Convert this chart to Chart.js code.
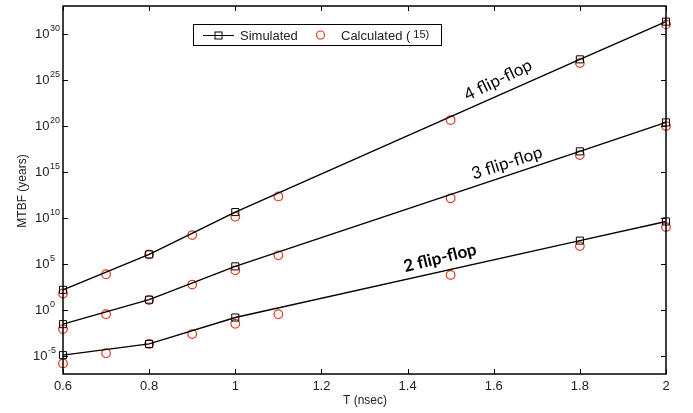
<!DOCTYPE html>
<html lang="en">
<head>
    <meta charset="UTF-8">
    <title>MTBF vs T</title>
    <script src="https://cdn.jsdelivr.net/npm/chart.js"></script>
    <style>
        body { margin: 0; padding: 0; background: #fff; }
        #wrap { width: 693px; height: 413px; position: relative; }
    </style>
</head>
<body>
    <div id="wrap"><canvas id="mtbfChart" width="693" height="413"></canvas></div>

    <script>
        // T (nsec) values
        const simT  = [0.6, 0.8, 1.0, 1.8, 2.0];
        const calcT = [0.6, 0.7, 0.8, 0.9, 1.0, 1.1, 1.5, 1.8, 2.0];

        // log10(MTBF in years)
        const sim4  = [2.15, 6.0, 10.6, 27.2, 31.3];
        const calc4 = [1.75, 3.84, 6.0, 8.1, 10.1, 12.3, 20.6, 26.8, 31.0];
        const sim3  = [-1.58, 1.08, 4.7, 17.2, 20.35];
        const calc3 = [-2.12, -0.5, 1.04, 2.72, 4.27, 5.9, 12.1, 16.8, 19.95];
        const sim2  = [-4.95, -3.73, -0.86, 7.5, 9.58];
        const calc2 = [-5.85, -4.74, -3.73, -2.66, -1.54, -0.5, 3.77, 6.9, 8.97];

        const xTicks = [0.6, 0.8, 1.0, 1.2, 1.4, 1.6, 1.8, 2.0];
        const yTickExps = [-5, 0, 5, 10, 15, 20, 25, 30];

        const RED = "#e2381c";

        function pts(xs, logs) {
            return xs.map((x, i) => ({ x: x, y: Math.pow(10, logs[i]) }));
        }

        function simSet(logs) {
            return {
                data: pts(simT, logs),
                borderColor: "#000",
                borderWidth: 1.4,
                pointStyle: "rect",
                pointRadius: 5,
                pointBorderWidth: 1,
                pointBackgroundColor: "rgba(0,0,0,0)",
                pointBorderColor: "#000",
                fill: false,
                tension: 0,
                clip: false
            };
        }

        function calcSet(logs) {
            return {
                data: pts(calcT, logs),
                showLine: false,
                pointStyle: "circle",
                pointRadius: 4.3,
                pointBorderWidth: 1.2,
                pointBackgroundColor: "rgba(0,0,0,0)",
                pointBorderColor: RED,
                clip: false
            };
        }

        // box, inward ticks, y labels with superscripts, titles, notes, legend
        const decorPlugin = {
            id: "decor",
            afterDraw(chart) {
                const c = chart.ctx;
                const a = chart.chartArea;
                const xs = chart.scales.x, ys = chart.scales.y;
                c.save();
                c.strokeStyle = "#000";
                c.lineWidth = 1.5;
                c.strokeRect(a.left, a.top, a.right - a.left, a.bottom - a.top);

                c.lineWidth = 1;
                c.beginPath();
                xTicks.forEach(v => {
                    const px = Math.round(xs.getPixelForValue(v)) + 0.5;
                    c.moveTo(px, a.bottom); c.lineTo(px, a.bottom - 5);
                    c.moveTo(px, a.top); c.lineTo(px, a.top + 5);
                });
                yTickExps.forEach(e => {
                    const py = Math.round(ys.getPixelForValue(Math.pow(10, e))) + 0.5;
                    c.moveTo(a.left, py); c.lineTo(a.left + 5, py);
                    c.moveTo(a.right, py); c.lineTo(a.right - 5, py);
                });
                c.stroke();

                // y tick labels 10^e
                c.fillStyle = "#222";
                c.textBaseline = "middle";
                c.textAlign = "left";
                yTickExps.forEach(e => {
                    const py = ys.getPixelForValue(Math.pow(10, e));
                    const bx = e < 0 ? 33 : 35;
                    c.font = "13px 'Liberation Sans', Arial, sans-serif";
                    c.fillText("10", bx, py + 1);
                    const w = c.measureText("10").width;
                    c.font = "9px 'Liberation Sans', Arial, sans-serif";
                    c.fillText(e < 0 ? "-" + Math.abs(e) : String(e), bx + w + 0.5, py - 5);
                });

                // axis titles
                c.font = "12px 'Liberation Sans', Arial, sans-serif";
                c.textAlign = "center";
                c.fillText("T (nsec)", 365, 401);
                c.save();
                c.translate(23, 191);
                c.rotate(-Math.PI / 2);
                c.fillText("MTBF (years)", 0, 0);
                c.restore();

                // curve notes
                c.fillStyle = "#000";
                const notes = [
                    { t: "4 flip-flop", x: 498, y: 80, r: -26, bold: false },
                    { t: "3 flip-flop", x: 507, y: 163, r: -18, bold: false },
                    { t: "2 flip-flop", x: 440, y: 258, r: -14, bold: true }
                ];
                notes.forEach(n => {
                    c.save();
                    c.translate(n.x, n.y);
                    c.rotate(n.r * Math.PI / 180);
                    c.font = (n.bold ? "bold " : "") + "17px Lato, 'Open Sans', sans-serif";
                    c.fillText(n.t, 0, 0);
                    c.restore();
                });

                // legend
                c.fillStyle = "#fff";
                c.fillRect(193, 24, 249, 21);
                c.strokeStyle = "#000";
                c.lineWidth = 1;
                c.strokeRect(193.5, 24.5, 248, 21);
                c.beginPath();
                c.moveTo(203, 35.5); c.lineTo(234, 35.5);
                c.stroke();
                c.strokeRect(215, 32, 7, 7);
                c.fillStyle = "#222";
                c.textAlign = "left";
                c.font = "13px 'Liberation Sans', Arial, sans-serif";
                c.fillText("Simulated", 240, 36);
                c.strokeStyle = RED;
                c.lineWidth = 1.2;
                c.beginPath();
                c.arc(320.5, 35, 4, 0, 2 * Math.PI);
                c.stroke();
                c.save();
                c.beginPath();
                c.rect(330, 25, 99, 20);
                c.clip();
                c.fillText("Calculated (", 341, 36);
                const cw = c.measureText("Calculated (").width;
                c.font = "11px 'Liberation Sans', Arial, sans-serif";
                c.fillText("15)", 341 + cw + 3, 35);
                c.restore();
                c.restore();
            }
        };

        const ctx = document.getElementById("mtbfChart").getContext("2d");
        const mtbfChart = new Chart(ctx, {
            type: "line",
            data: {
                datasets: [
                    simSet(sim4), calcSet(calc4),
                    simSet(sim3), calcSet(calc3),
                    simSet(sim2), calcSet(calc2)
                ]
            },
            options: {
                responsive: false,
                animation: false,
                layout: { padding: { top: 2, right: 27, left: 0, bottom: 0 } },
                plugins: {
                    legend: { display: false },
                    tooltip: { enabled: false }
                },
                scales: {
                    x: {
                        type: "linear",
                        min: 0.6,
                        max: 2.0,
                        afterBuildTicks: s => { s.ticks = xTicks.map(v => ({ value: v })); },
                        afterFit: s => { s.height = 39; },
                        grid: { display: false, drawTicks: false },
                        border: { display: false },
                        ticks: {
                            padding: 5,
                            color: "#222",
                            font: { family: "'Liberation Sans', Arial, sans-serif", size: 13 },
                            maxRotation: 0,
                            callback: v => String(Math.round(v * 10) / 10)
                        }
                    },
                    y: {
                        type: "logarithmic",
                        min: 1e-7,
                        max: 1e33,
                        afterBuildTicks: s => { s.ticks = yTickExps.map(e => ({ value: Math.pow(10, e) })); },
                        afterFit: s => { s.width = 63; },
                        grid: { display: false, drawTicks: false },
                        border: { display: false },
                        ticks: { display: false }
                    }
                }
            },
            plugins: [decorPlugin]
        });
    </script>
</body>
</html>
